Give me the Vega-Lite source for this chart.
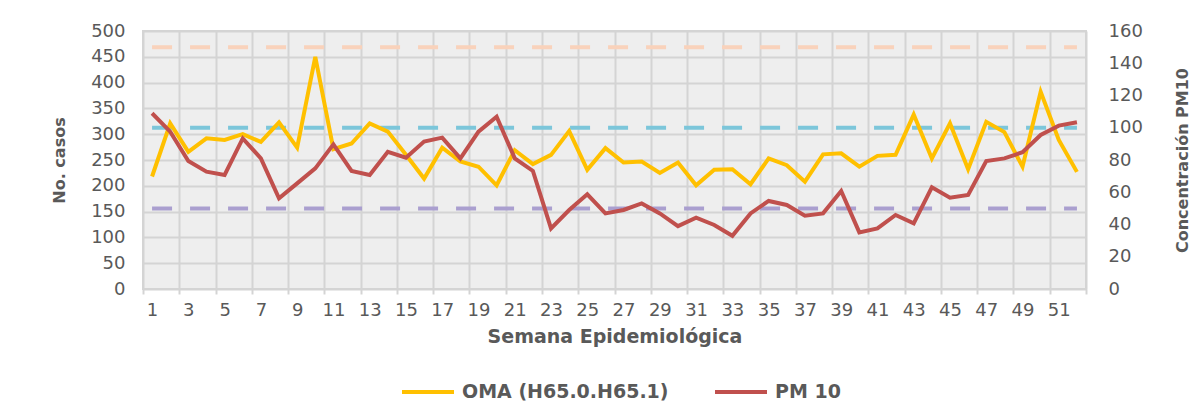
{
  "$schema": "https://vega.github.io/schema/vega-lite/v6.json",
  "width": 943,
  "height": 258,
  "autosize": {"type": "none"},
  "padding": {"left": 143, "top": 31, "right": 118, "bottom": 118},
  "background": "white",
  "config": {
    "font": "DejaVu Sans",
    "view": {"fill": "#eeeeee", "stroke": "#d4d4d4", "strokeWidth": 2},
    "axis": {
      "labelFont": "DejaVu Sans",
      "labelColor": "#595959",
      "labelFontSize": 18,
      "titleFont": "DejaVu Sans",
      "titleColor": "#595959",
      "titleFontWeight": "bold",
      "domain": false,
      "ticks": false,
      "grid": false
    }
  },
  "datasets": {
    "semanas": [
      {"semana": 1, "oma": 218, "pm10": 109},
      {"semana": 2, "oma": 321, "pm10": 97.6},
      {"semana": 3, "oma": 266, "pm10": 79.4},
      {"semana": 4, "oma": 292, "pm10": 72.8},
      {"semana": 5, "oma": 289, "pm10": 70.7},
      {"semana": 6, "oma": 300, "pm10": 93.4},
      {"semana": 7, "oma": 285, "pm10": 81},
      {"semana": 8, "oma": 323, "pm10": 56.2},
      {"semana": 9, "oma": 274, "pm10": 65.5},
      {"semana": 10, "oma": 450, "pm10": 74.8},
      {"semana": 11, "oma": 271, "pm10": 89.7},
      {"semana": 12, "oma": 282, "pm10": 73.2},
      {"semana": 13, "oma": 321, "pm10": 70.7},
      {"semana": 14, "oma": 305, "pm10": 85.1},
      {"semana": 15, "oma": 260, "pm10": 81.4},
      {"semana": 16, "oma": 214, "pm10": 91.4},
      {"semana": 17, "oma": 274, "pm10": 93.9},
      {"semana": 18, "oma": 247, "pm10": 81},
      {"semana": 19, "oma": 237, "pm10": 97.6},
      {"semana": 20, "oma": 201, "pm10": 106.9},
      {"semana": 21, "oma": 269, "pm10": 81},
      {"semana": 22, "oma": 242, "pm10": 73.2},
      {"semana": 23, "oma": 260, "pm10": 37.6},
      {"semana": 24, "oma": 306, "pm10": 49},
      {"semana": 25, "oma": 231, "pm10": 58.7},
      {"semana": 26, "oma": 273, "pm10": 46.9},
      {"semana": 27, "oma": 245, "pm10": 49},
      {"semana": 28, "oma": 247, "pm10": 53.1},
      {"semana": 29, "oma": 225, "pm10": 46.9},
      {"semana": 30, "oma": 245, "pm10": 39},
      {"semana": 31, "oma": 201, "pm10": 44.2},
      {"semana": 32, "oma": 231, "pm10": 39.7},
      {"semana": 33, "oma": 232, "pm10": 33},
      {"semana": 34, "oma": 203, "pm10": 46.9},
      {"semana": 35, "oma": 253, "pm10": 54.6},
      {"semana": 36, "oma": 240, "pm10": 52.1},
      {"semana": 37, "oma": 208, "pm10": 45.5},
      {"semana": 38, "oma": 261, "pm10": 46.9},
      {"semana": 39, "oma": 263, "pm10": 60.8},
      {"semana": 40, "oma": 237, "pm10": 35.1},
      {"semana": 41, "oma": 258, "pm10": 37.6},
      {"semana": 42, "oma": 260, "pm10": 45.9},
      {"semana": 43, "oma": 338, "pm10": 40.7},
      {"semana": 44, "oma": 253, "pm10": 63.1},
      {"semana": 45, "oma": 321, "pm10": 56.6},
      {"semana": 46, "oma": 232, "pm10": 58.3},
      {"semana": 47, "oma": 324, "pm10": 79.4},
      {"semana": 48, "oma": 304, "pm10": 81},
      {"semana": 49, "oma": 237, "pm10": 84.8},
      {"semana": 50, "oma": 382, "pm10": 95.5},
      {"semana": 51, "oma": 289, "pm10": 101.3},
      {"semana": 52, "oma": 227, "pm10": 103.4}
    ],
    "limites": [
      {"semana": 1, "nivel": 50},
      {"semana": 52, "nivel": 50},
      {"semana": 1, "nivel": 100},
      {"semana": 52, "nivel": 100},
      {"semana": 1, "nivel": 150},
      {"semana": 52, "nivel": 150}
    ]
  },
  "layer": [
    {
      "data": {"name": "limites"},
      "transform": [{"filter": "datum.nivel == 150"}],
      "mark": {"type": "line", "color": "#f9d2bb", "strokeWidth": 4, "strokeDash": [20, 18]},
      "encoding": {
        "x": {"field": "semana", "type": "quantitative", "scale": {"domain": [0.5, 52.5], "nice": false, "zero": false},
          "axis": {"orient": "bottom", "values": [0.5, 2.5, 4.5, 6.5, 8.5, 10.5, 12.5, 14.5, 16.5, 18.5, 20.5, 22.5, 24.5, 26.5, 28.5, 30.5, 32.5, 34.5, 36.5, 38.5, 40.5, 42.5, 44.5, 46.5, 48.5, 50.5, 52.5],
            "grid": true, "gridColor": "#d4d4d4", "gridWidth": 2, "ticks": true, "tickColor": "#d4d4d4", "tickWidth": 2, "tickSize": 5, "labels": false, "title": null}},
        "y": {"field": "nivel", "type": "quantitative", "scale": {"domain": [0, 160], "nice": false},
          "axis": null}
      }
    },
    {
      "data": {"name": "limites"},
      "transform": [{"filter": "datum.nivel == 100"}],
      "mark": {"type": "line", "color": "#7cc6da", "strokeWidth": 4, "strokeDash": [20, 18]},
      "encoding": {
        "x": {"field": "semana", "type": "quantitative", "axis": null},
        "y": {"field": "nivel", "type": "quantitative", "scale": {"domain": [0, 160], "nice": false}, "axis": null}
      }
    },
    {
      "data": {"name": "limites"},
      "transform": [{"filter": "datum.nivel == 50"}],
      "mark": {"type": "line", "color": "#aa9fcf", "strokeWidth": 4, "strokeDash": [20, 18]},
      "encoding": {
        "x": {"field": "semana", "type": "quantitative", "axis": null},
        "y": {"field": "nivel", "type": "quantitative", "scale": {"domain": [0, 160], "nice": false}, "axis": null}
      }
    },
    {
      "data": {"name": "semanas"},
      "mark": {"type": "line", "strokeWidth": 4},
      "encoding": {
        "x": {"field": "semana", "type": "quantitative", "axis": null},
        "y": {"field": "oma", "type": "quantitative", "scale": {"domain": [0, 500], "nice": false},
          "axis": {"values": [0, 50, 100, 150, 200, 250, 300, 350, 400, 450, 500], "grid": true, "gridColor": "#d4d4d4", "gridWidth": 2,
            "labelPadding": 18, "title": "No. casos", "titleFontSize": 16, "titlePadding": 23}},
        "color": {"datum": "OMA (H65.0.H65.1)", "type": "nominal",
          "scale": {"domain": ["OMA (H65.0.H65.1)", "PM 10"], "range": ["#ffc000", "#c0504d"]},
          "legend": {"title": null, "orient": "none", "legendX": 257, "legendY": 333, "direction": "horizontal",
            "symbolType": "stroke", "symbolStrokeWidth": 4, "symbolSize": 2704, "labelFontSize": 19, "labelFontWeight": "bold",
            "labelColor": "#595959", "labelFont": "DejaVu Sans", "labelLimit": 400, "columnPadding": 38, "labelOffset": 6}}
      }
    },
    {
      "data": {"name": "semanas"},
      "mark": {"type": "line", "strokeWidth": 4},
      "encoding": {
        "x": {"field": "semana", "type": "quantitative",
          "axis": {"orient": "bottom", "values": [1, 3, 5, 7, 9, 11, 13, 15, 17, 19, 21, 23, 25, 27, 29, 31, 33, 35, 37, 39, 41, 43, 45, 47, 49, 51],
            "labelPadding": 12, "title": "Semana Epidemiológica", "titleFontSize": 19, "titlePadding": 8}},
        "y": {"field": "pm10", "type": "quantitative", "scale": {"domain": [0, 160], "nice": false},
          "axis": {"orient": "right", "values": [0, 20, 40, 60, 80, 100, 120, 140, 160], "labelPadding": 22,
            "title": "Concentración PM10", "titleFontSize": 16, "titleAngle": 270, "titlePadding": 48}},
        "color": {"datum": "PM 10", "type": "nominal"}
      }
    }
  ],
  "resolve": {"scale": {"y": "independent"}, "axis": {"x": "independent"}}
}
